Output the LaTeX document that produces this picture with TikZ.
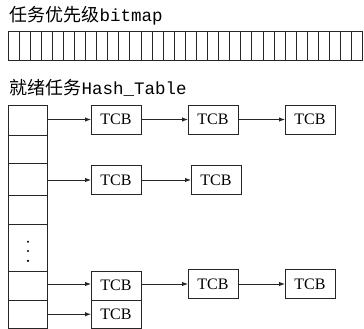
\documentclass[tikz,border=0pt]{standalone}
\usepackage{fontspec}
\setmainfont{Liberation Serif}
\setmonofont{Liberation Mono}
\newfontfamily\cjk{Noto Sans CJK SC}
\usetikzlibrary{arrows.meta}
\begin{document}
\begin{tikzpicture}[x=1pt,y=-1pt,
  line width=1pt, draw=black!85,
  cell/.style={draw=black!85, minimum width=39pt, inner sep=0pt, outer sep=0pt},
  tcb/.style={draw=black!85, minimum width=50pt, minimum height=29pt, inner sep=0pt, outer sep=0pt, font=\fontsize{16}{17}\selectfont},
  link/.style={-{Latex[length=6pt,width=4.5pt]}, draw=black!85},
  lbl/.style={anchor=base west, inner sep=0pt, font=\fontsize{18}{20}\selectfont}
]
\useasboundingbox (0,0) rectangle (364,329);
% titles
\node[lbl] (t1) at (9,22) {\cjk 任务优先级\ttfamily\fontsize{17.5}{20}\selectfont bitmap};
\node[lbl] (t2) at (9,95) {\cjk 就绪任务\ttfamily\fontsize{17.5}{20}\selectfont Hash\_Table};
% bitmap
\foreach \i in {0,...,31} {
  \node[draw=black!85, minimum width=11.09pt, minimum height=29pt, inner sep=0pt, outer sep=0pt, anchor=north west] (b\i) at ({8+\i*11.09},32) {};
}
% hash table cells
\node[cell, minimum height=30pt, anchor=north west] (h1) at (8,105) {};
\node[cell, minimum height=28pt, anchor=north west] (h2) at (8,135) {};
\node[cell, minimum height=32pt, anchor=north west] (h3) at (8,163) {};
\node[cell, minimum height=29pt, anchor=north west] (h4) at (8,195) {};
\node[cell, minimum height=47pt, anchor=north west] (h5) at (8,224) {};
\node[cell, minimum height=29pt, anchor=north west] (h6) at (8,271) {};
\node[cell, minimum height=28.5pt, anchor=north west] (h7) at (8,300) {};
% dots
\fill (h5.center) ++(0.5,-5.8) circle (1.2pt);
\fill (h5.center) ++(0.5,3.5) circle (1.2pt);
\fill (h5.center) ++(0.5,13.3) circle (1.2pt);
% TCB rows
\node[tcb] (a1) at (116,119.5) {TCB};
\node[tcb] (a2) at (213,119.5) {TCB};
\node[tcb] (a3) at (310,119.5) {TCB};
\node[tcb] (c1) at (116,180) {TCB};
\node[tcb] (c2) at (216,180) {TCB};
\node[tcb] (d1) at (116,285.5) {TCB};
\node[tcb] (d2) at (213,284) {TCB};
\node[tcb] (d3) at (310,284) {TCB};
\node[tcb, minimum height=28.5pt] (e1) at (116,314.25) {TCB};
% links
\draw[link] (h1.east |- a1) -- (a1.west);
\draw[link] (a1) -- (a2);
\draw[link] (a2) -- (a3);
\draw[link] (h3.east |- c1) -- (c1.west);
\draw[link] (c1) -- (c2);
\draw[link] (h6.east |- d2) -- (d1.west |- d2);
\draw[link] (d1.east |- d2) -- (d2.west);
\draw[link] (d2) -- (d3);
\draw[link] (h7.east |- e1) -- (e1.west);
\end{tikzpicture}
\end{document}
